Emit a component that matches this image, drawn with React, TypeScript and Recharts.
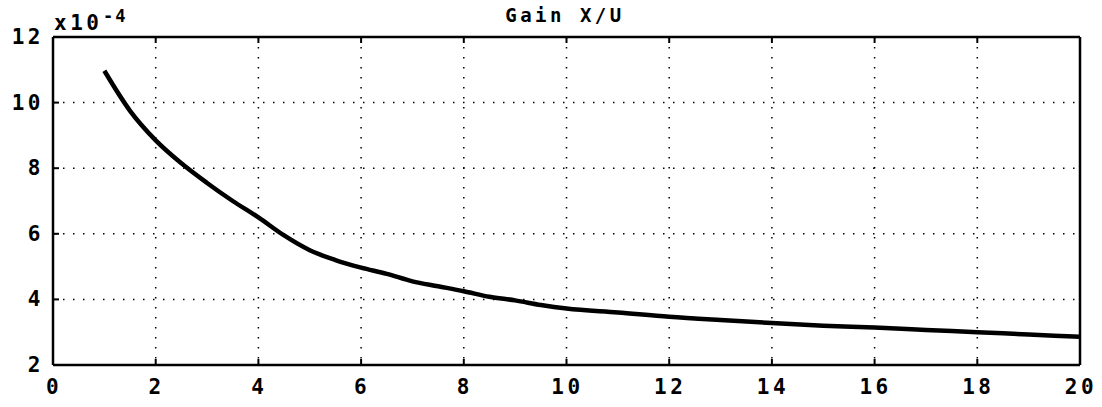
import React from 'react';
import { LineChart, Line, XAxis, YAxis, CartesianGrid } from 'recharts';

// x positions and gain readings (units of 1e-4)
const xValues = [1, 1.5, 2, 2.5, 3, 3.5, 4, 4.5, 5, 5.5, 6, 6.5, 7, 7.5, 8, 8.5, 9, 9.5, 10, 11, 12, 13, 14, 15, 16, 17, 18, 19, 20];
const gainValues = [10.97, 9.75, 8.85, 8.15, 7.55, 7.0, 6.5, 5.95, 5.5, 5.2, 4.97, 4.78, 4.55, 4.4, 4.25, 4.08, 3.97, 3.83, 3.72, 3.6, 3.47, 3.37, 3.28, 3.2, 3.14, 3.07, 3.0, 2.93, 2.86];

const xTicks = [0, 2, 4, 6, 8, 10, 12, 14, 16, 18, 20];
const yTicks = [2, 4, 6, 8, 10, 12];

const data = xValues.map((x, i) => ({ x, gain: gainValues[i] }));

const FONT = '"DejaVu Sans Mono", monospace';
const GAP = 10;
const MARK = 6;

const BottomTick = (props: any) => {
  const { x, y, payload } = props;
  const ay = y - GAP;
  return (
    <g>
      <line x1={x} y1={ay} x2={x} y2={ay - MARK} stroke="#000" strokeWidth={2} />
      <text x={x + 1} y={ay + 29} textAnchor="middle" fontFamily={FONT} fontWeight="bold" fontSize={21} letterSpacing={3.5} fill="#000">
        {payload.value}
      </text>
    </g>
  );
};

const LeftTick = (props: any) => {
  const { x, y, payload } = props;
  const ax = x + GAP;
  return (
    <g>
      <line x1={ax} y1={y} x2={ax + MARK} y2={y} stroke="#000" strokeWidth={2} />
      <text x={ax - 9} y={y + 7} textAnchor="end" fontFamily={FONT} fontWeight="bold" fontSize={21} letterSpacing={3.5} fill="#000">
        {payload.value}
      </text>
    </g>
  );
};

const TopTick = (props: any) => {
  const { x, y } = props;
  const ay = y + GAP;
  return <line x1={x} y1={ay} x2={x} y2={ay + MARK} stroke="#000" strokeWidth={2} />;
};

const RightTick = (props: any) => {
  const { x, y } = props;
  const ax = x - GAP;
  return <line x1={ax} y1={y} x2={ax - MARK} y2={y} stroke="#000" strokeWidth={2} />;
};

const TopLabel = () => (
  <g fontFamily={FONT} fontWeight="bold" fill="#000">
    <text x={565} y={22} textAnchor="middle" fontSize={19} letterSpacing={3.5}>
      Gain X/U
    </text>
    <text x={54} y={30} fontSize={21} letterSpacing={3.5}>
      x10
    </text>
    <text x={103} y={22} fontSize={17} letterSpacing={2}>
      -4
    </text>
  </g>
);

export default function App() {
  return (
    <div style={{ position: 'absolute', left: 0, top: 0, background: '#fff' }}>
      <LineChart width={1102} height={407} data={data} margin={{ top: 7, right: 12, bottom: 12, left: 13 }}>
        <CartesianGrid xAxisId="b" yAxisId="l" stroke="#000" strokeWidth={1.5} strokeDasharray="1.5 8.5" />
        <XAxis xAxisId="b" dataKey="x" type="number" domain={[0, 20]} ticks={xTicks} height={30} tickSize={0} tickMargin={GAP} tick={<BottomTick />} axisLine={{ stroke: '#000', strokeWidth: 2.5 }} tickLine={false} interval={0} />
        <XAxis xAxisId="t" orientation="top" dataKey="x" type="number" domain={[0, 20]} ticks={xTicks} height={30} tickSize={0} tickMargin={GAP} tick={<TopTick />} axisLine={{ stroke: '#000', strokeWidth: 2.5 }} tickLine={false} interval={0} label={{ content: <TopLabel /> }} />
        <YAxis yAxisId="l" type="number" domain={[2, 12]} ticks={yTicks} width={40} tickSize={0} tickMargin={GAP} tick={<LeftTick />} axisLine={{ stroke: '#000', strokeWidth: 2.5 }} tickLine={false} interval={0} />
        <YAxis yAxisId="r" orientation="right" type="number" domain={[2, 12]} ticks={yTicks} width={10} tickSize={0} tickMargin={GAP} tick={<RightTick />} axisLine={{ stroke: '#000', strokeWidth: 2.5 }} tickLine={false} interval={0} />
        <Line xAxisId="b" yAxisId="l" type="monotone" dataKey="gain" stroke="#000" strokeWidth={4.5} dot={false} isAnimationActive={false} />
      </LineChart>
    </div>
  );
}
